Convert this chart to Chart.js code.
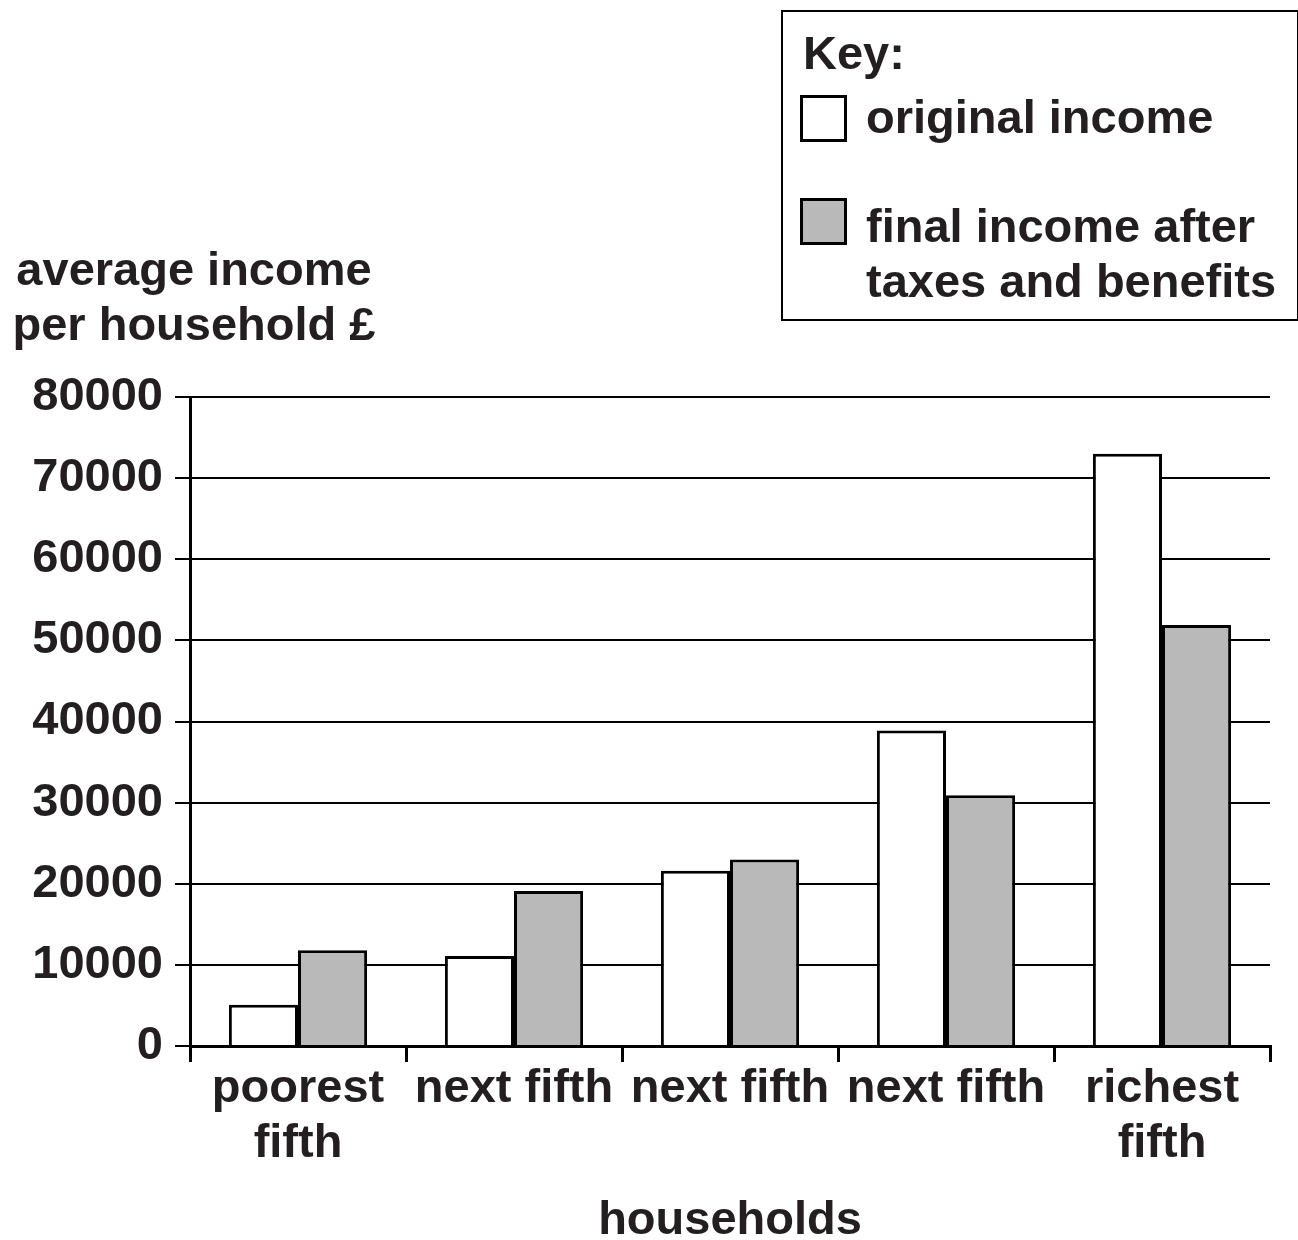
<!DOCTYPE html>
<html>
<head>
<meta charset="utf-8">
<script src="https://cdn.jsdelivr.net/npm/chart.js@4.4.0/dist/chart.umd.min.js"></script>
<style>
  html, body { margin: 0; padding: 0; background: #ffffff; }
  #wrap { width: 1298px; height: 1240px; }
</style>
</head>
<body>
<div id="wrap"><canvas id="myChart" width="1298" height="1240"></canvas></div>
<script>
// categories along the bottom
const groups = [['poorest', 'fifth'], 'next fifth', 'next fifth', 'next fifth', ['richest', 'fifth']];

// average income per household
const originalIncome = [5100, 11100, 21600, 38900, 73000];
const finalIncome = [11800, 19100, 23000, 30900, 51900];

// y axis
const yTicks = [0, 10000, 20000, 30000, 40000, 50000, 60000, 70000, 80000];

// text
const yTitle = ['average income', 'per household £'];
const xTitle = 'households';
const keyTitle = 'Key:';
const keyLines = [['original income'], ['final income after', 'taxes and benefits']];

const ink = '#231f20';
const fontFam = '"Liberation Sans", Arial, Helvetica, sans-serif';
const bigFont = { family: fontFam, size: 47, weight: 'bold' };

// draws the y title and the boxed key (not part of chart.js layout)
const extras = {
    id: 'extras',
    afterDraw(chart) {
        const c = chart.ctx;
        const area = chart.chartArea;
        c.save();
        c.font = 'bold 47px ' + fontFam;
        c.fillStyle = ink;
        c.textAlign = 'center';
        c.textBaseline = 'alphabetic';
        c.fillText(yTitle[0], area.left + 4, 285);
        c.fillText(yTitle[1], area.left + 4, 340);

        // key box
        c.strokeStyle = '#000000';
        c.lineWidth = 2;
        c.strokeRect(782, 11, 516, 309);

        c.textAlign = 'left';
        c.fillText(keyTitle, 803, 69);

        const sqY = [95, 198];
        const txtY = [[133], [242, 297]];
        chart.data.datasets.forEach((ds, i) => {
            c.fillStyle = ds.backgroundColor;
            c.fillRect(801, sqY[i] + 1, 44, 44);
            c.lineWidth = 3;
            c.strokeStyle = '#000000';
            c.strokeRect(801.5, sqY[i] + 1.5, 44, 44);
            c.fillStyle = ink;
            keyLines[i].forEach((line, j) => {
                c.fillText(line, 866, txtY[i][j]);
            });
        });
        c.restore();
    }
};

const ctx = document.getElementById('myChart');

const chart = new Chart(ctx, {
    type: 'bar',
    data: {
        labels: groups,
        datasets: [{
            label: 'original income',
            data: originalIncome,
            backgroundColor: '#ffffff',
            borderColor: '#000000',
            borderWidth: 3
        }, {
            label: 'final income after taxes and benefits',
            data: finalIncome,
            backgroundColor: '#b9b9b9',
            borderColor: '#000000',
            borderWidth: 3
        }]
    },
    options: {
        responsive: false,
        animation: false,
        devicePixelRatio: 1,
        categoryPercentage: 0.64,
        barPercentage: 1.0,
        layout: {
            padding: { top: 397, right: 28, left: 0, bottom: 0 }
        },
        scales: {
            y: {
                min: 0,
                max: 80000,
                afterBuildTicks: (scale) => {
                    scale.ticks = yTicks.map(v => ({ value: v }));
                },
                afterFit: (scale) => { scale.width = 190; },
                ticks: {
                    color: ink,
                    font: bigFont,
                    padding: 12,
                    callback: (v) => String(v)
                },
                grid: {
                    color: '#000000',
                    lineWidth: 2,
                    tickLength: 15
                },
                border: {
                    display: true,
                    color: '#000000',
                    width: 3
                }
            },
            x: {
                afterFit: (scale) => { scale.height = 194; },
                ticks: {
                    color: ink,
                    font: { family: fontFam, size: 47, weight: 'bold', lineHeight: 1.17 },
                    padding: 0,
                    maxRotation: 0,
                    autoSkip: false
                },
                grid: {
                    drawOnChartArea: false,
                    drawTicks: true,
                    tickLength: 16,
                    color: '#000000',
                    lineWidth: 3
                },
                border: {
                    display: true,
                    color: '#000000',
                    width: 3
                },
                title: {
                    display: true,
                    text: xTitle,
                    color: ink,
                    font: { family: fontFam, size: 47, weight: 'bold', lineHeight: 0.8 },
                    padding: 0
                }
            }
        },
        plugins: {
            legend: { display: false },
            tooltip: { enabled: false }
        }
    },
    plugins: [extras]
});
</script>
</body>
</html>
